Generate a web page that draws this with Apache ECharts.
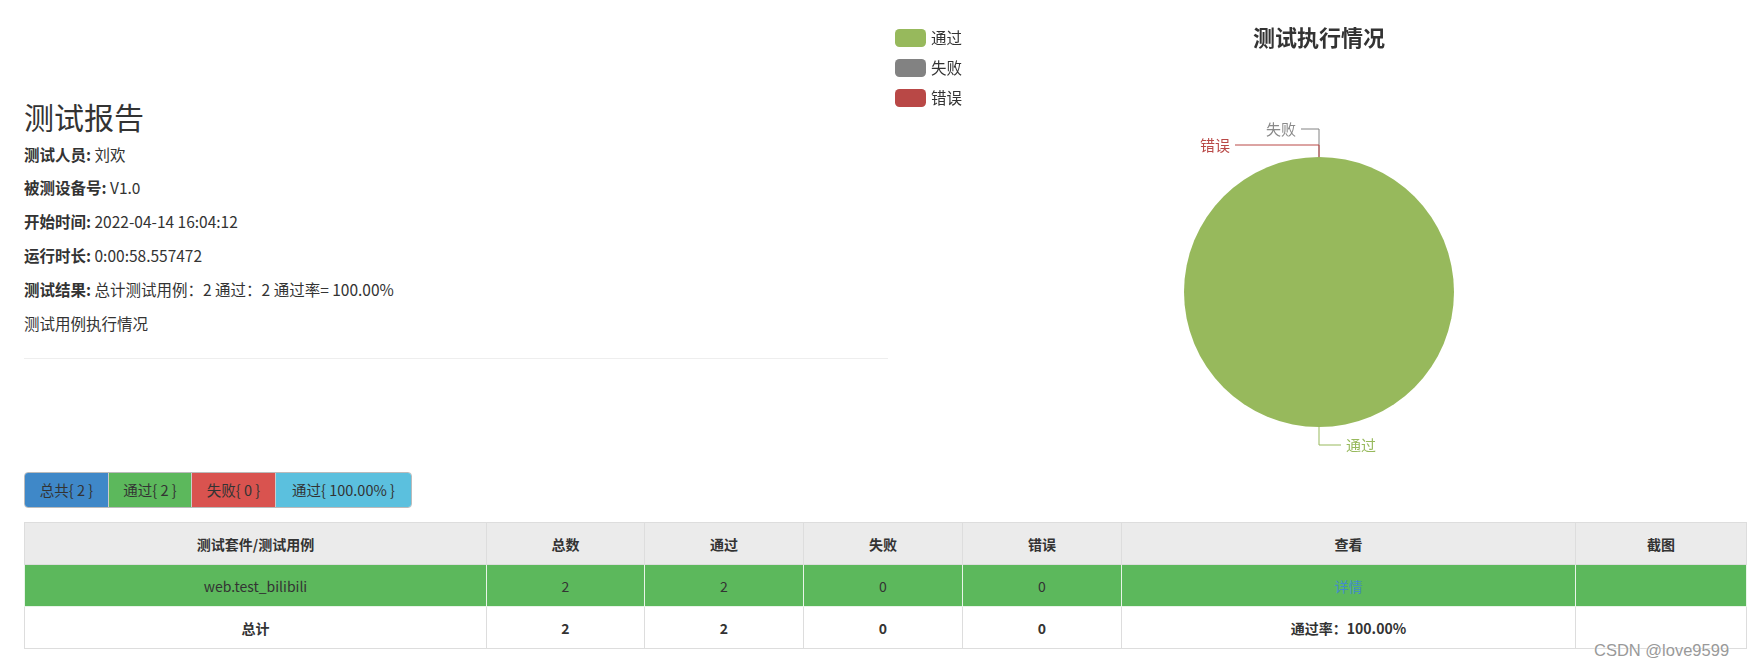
<!DOCTYPE html>
<html>
<head>
<meta charset="utf-8">
<script src="https://cdn.jsdelivr.net/npm/echarts@6/dist/echarts.min.js"></script>
<style>
  html, body { margin: 0; padding: 0; background: #fff; }
  body { width: 1748px; height: 671px; position: relative; overflow: hidden;
         font-family: "Noto Sans CJK SC", "Noto Sans", sans-serif; color: #333; font-size: 14px; }
  #info { position: absolute; left: 24px; top: 0; width: 864px; }
  #info h1 { position: absolute; left: 0; top: 96px; margin: 0; font-size: 30px; font-weight: normal; line-height: 40px; white-space: nowrap; }
  #info p { position: absolute; left: 0; margin: 0; line-height: 20px; white-space: nowrap; font-size: 15.5px; }
  #info hr { position: absolute; left: 0; top: 358px; width: 864px; margin: 0; border: 0; border-top: 1px solid #eee; }
  #chart { position: absolute; left: 888px; top: 0; width: 862px; height: 468px; }
  #btns { position: absolute; left: 24px; top: 472px; height: 36px; display: flex; border: 1px solid #bbb; border-radius: 4px; overflow: hidden; box-sizing: border-box; }
  #btns div { height: 34px; line-height: 34px; text-align: center; color: #333; font-size: 14.5px; box-sizing: border-box; }
  #tbl { position: absolute; left: 24px; top: 522px; border-collapse: collapse; width: 1722px; table-layout: fixed; }
  #tbl td, #tbl th { border: 1px solid #ddd; height: 42px; padding: 0; text-align: center; font-size: 14px; box-sizing: border-box; }
  #tbl th { background: #ebebeb; font-weight: bold; }
  #tbl tr.pass td { background: #5cb85c; color: #333; border-color: #e8f4e8; }
  #tbl tr.total td { font-weight: bold; }
  #tbl a { color: #428bca; text-decoration: none; }
  #wm { position: absolute; left: 1594px; top: 641px; font-family: "Liberation Sans", Arial, sans-serif; font-size: 16.5px; color: #999;
        text-shadow: 0 0 2px #fff, 0 0 1px #fff; white-space: nowrap; }
</style>
</head>
<body>
<div id="info"></div>
<div id="chart"></div>
<div id="btns"></div>
<table id="tbl"></table>
<div id="wm">CSDN @love9599</div>
<script>
// ---- data ----
var reportTitle = '测试报告';
var infoLabels = ['测试人员:', '被测设备号:', '开始时间:', '运行时长:', '测试结果:'];
var infoValues = ['刘欢', 'V1.0', '2022-04-14 16:04:12', '0:00:58.557472', '总计测试用例：2 通过：2 通过率= 100.00%'];
var sectionText = '测试用例执行情况';
var chartTitle = '测试执行情况';
var categories = ['通过', '失败', '错误'];
var counts = [2, 0, 0];
var buttonTexts = ['总共{ 2 }', '通过{ 2 }', '失败{ 0 }', '通过{ 100.00% }'];
var tableHeaders = ['测试套件/测试用例', '总数', '通过', '失败', '错误', '查看', '截图'];
var suiteRow = ['web.test_bilibili', '2', '2', '0', '0', '详情', ''];
var totalRow = ['总计', '2', '2', '0', '0', '通过率：100.00%', ''];

// ---- styles ----
var colors = ['#97b95c', '#828282', '#b94846'];
var labelColors = ['#97b95c', '#8a8a8a', '#b94846'];
var lineLengths = [[18, 22], [28, 18], [12, 84]];
var btnColors = ['#3f88c8', '#5cb85c', '#d9534f', '#5bc0de'];
var btnWidths = [83, 83, 84, 136];
var colWidths = [462, 158, 159, 159, 159, 454, 171];
var infoTops = [144, 177, 211, 245, 279];

// ---- html parts ----
var info = document.getElementById('info');
var h = '<h1>' + reportTitle + '</h1>';
for (var i = 0; i < infoLabels.length; i++) {
  h += '<p style="top:' + infoTops[i] + 'px"><b>' + infoLabels[i] + '</b> ' + infoValues[i] + '</p>';
}
h += '<p style="top:313px">' + sectionText + '</p><hr>';
info.innerHTML = h;

var btns = document.getElementById('btns');
btns.innerHTML = buttonTexts.map(function (t, i) {
  return '<div style="width:' + btnWidths[i] + 'px;background:' + btnColors[i] + (i > 0 ? ';border-left:1px solid #ccc' : '') + '">' + t + '</div>';
}).join('');

var tbl = document.getElementById('tbl');
var th = '<colgroup>' + colWidths.map(function (w) { return '<col style="width:' + w + 'px">'; }).join('') + '</colgroup>';
th += '<tr>' + tableHeaders.map(function (t) { return '<th>' + t + '</th>'; }).join('') + '</tr>';
th += '<tr class="pass">' + suiteRow.map(function (t, i) { return '<td>' + (i === 5 ? '<a>' + t + '</a>' : t) + '</td>'; }).join('') + '</tr>';
th += '<tr class="total">' + totalRow.map(function (t) { return '<td>' + t + '</td>'; }).join('') + '</tr>';
tbl.innerHTML = th;

// ---- chart ----
var chart = echarts.init(document.getElementById('chart'));
chart.setOption({
  animation: false,
  color: colors,
  textStyle: { fontFamily: '"Noto Sans CJK SC", sans-serif' },
  title: {
    text: chartTitle, left: 'center', top: 22,
    textStyle: { fontSize: 22, fontWeight: 'bold', color: '#333' }
  },
  legend: {
    orient: 'vertical', left: 2, top: 24,
    itemWidth: 31, itemHeight: 18, itemGap: 12,
    textStyle: { fontSize: 15.5, color: '#333' },
    data: categories
  },
  series: [{
    type: 'pie',
    center: ['50%', 292],
    radius: 135,
    startAngle: 90,
    avoidLabelOverlap: false,
    label: { fontSize: 15 },
    data: categories.map(function (c, i) {
      return {
        name: c, value: counts[i],
        label: { color: labelColors[i] },
        labelLine: { length: lineLengths[i][0], length2: lineLengths[i][1] }
      };
    })
  }]
});
</script>
</body>
</html>
